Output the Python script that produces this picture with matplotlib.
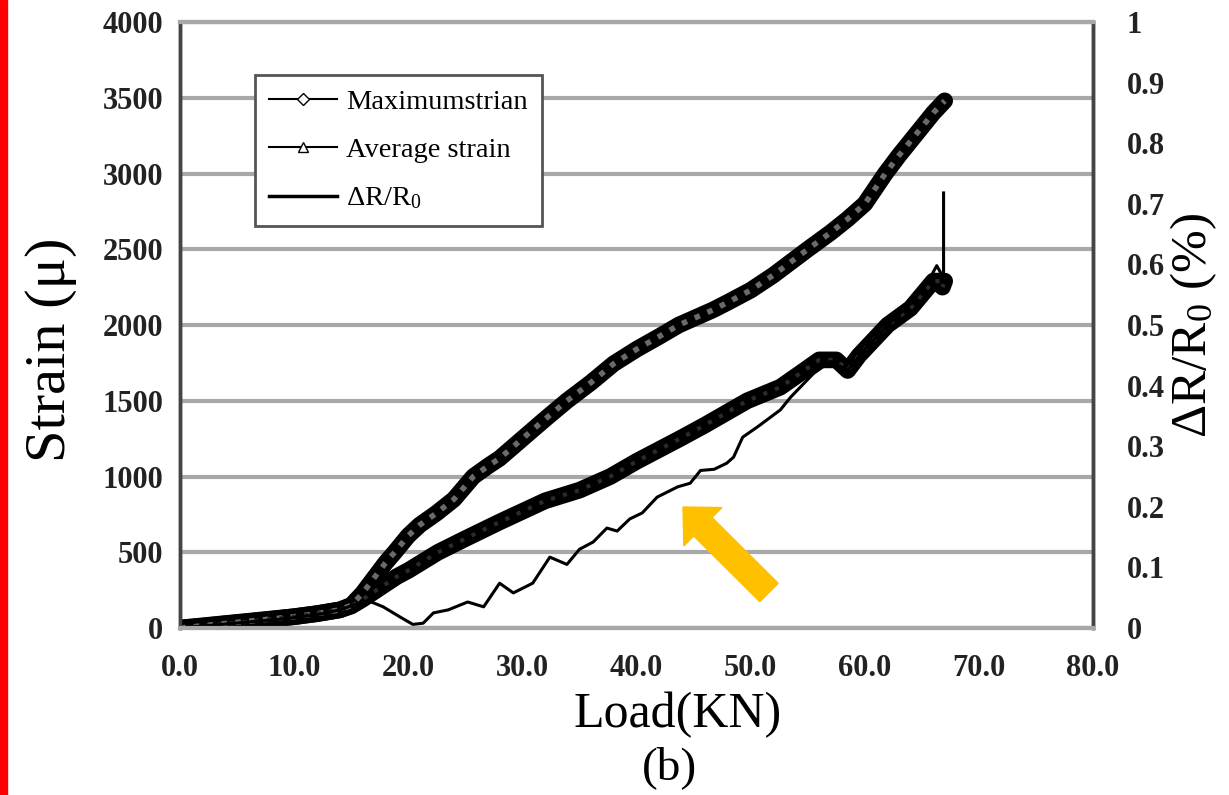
import matplotlib
matplotlib.use("Agg")
import matplotlib.pyplot as plt
from matplotlib.lines import Line2D
from matplotlib.patches import FancyArrow, Rectangle

# values
load_max = [0, 2, 4, 6, 8, 10, 12, 14, 15, 16, 17, 18, 18.8, 20, 21, 22.5, 24,
            25.7, 27, 28, 30, 32, 33.9, 36, 38, 40, 42, 43.7, 46.7, 48, 50, 52,
            55, 57, 58.5, 60, 61.8, 63, 64.5, 66, 67]
strain_max = [0, 15, 30, 45, 60, 75, 95, 120, 150, 230, 330, 430, 500, 610, 680,
              760, 850, 1000, 1070, 1120, 1250, 1380, 1500, 1620, 1745, 1840,
              1925, 2000, 2100, 2150, 2230, 2330, 2500, 2610, 2700, 2800, 3000,
              3120, 3260, 3400, 3480]

load_avg = [0, 2, 4, 6, 8, 10, 12, 14, 15, 16, 17, 18, 19, 20, 22.6, 25, 28, 30,
            32, 35, 37.7, 40, 43.8, 46, 49.7, 52.6, 54.5, 56, 57.5, 58.5, 59.5,
            61, 62, 64, 65, 66, 67, 66.8]
strain_avg = [0, 12, 28, 42, 58, 75, 95, 120, 145, 190, 240, 290, 340, 380, 500,
              590, 700, 770, 840, 910, 1000, 1100, 1250, 1340, 1500, 1590, 1690,
              1770, 1770, 1700, 1800, 1920, 2000, 2110, 2200, 2290, 2290, 2250]

load_dr = [0, 3, 6, 9, 12, 14, 15.5, 16.5, 17.8, 19.3, 20.4, 21.3, 22.2, 23.5,
           25.2, 26.6, 28.0, 29.2, 30.9, 32.4, 33.9, 35.0, 36.2, 37.4, 38.3,
           39.4, 40.5, 41.8, 43.6, 44.7, 45.6, 46.8, 47.9, 48.5, 49.3, 50.6,
           52.6, 53.5, 55.5, 57, 58.5, 60, 62, 64, 65.5, 66.3, 66.9, 66.9]
dr_r0 = [0.0, 0.005, 0.01, 0.015, 0.022, 0.03, 0.04, 0.045, 0.035, 0.018, 0.006,
         0.008, 0.025, 0.03, 0.043, 0.035, 0.074, 0.058, 0.074, 0.117, 0.105,
         0.13, 0.142, 0.165, 0.16, 0.18, 0.19, 0.216, 0.233, 0.239, 0.26, 0.262,
         0.272, 0.282, 0.315, 0.332, 0.36, 0.381, 0.42, 0.44, 0.425, 0.46, 0.50,
         0.535, 0.57, 0.598, 0.578, 0.718]

xticks = [0, 10, 20, 30, 40, 50, 60, 70, 80]
xtick_labels = ["0.0", "10.0", "20.0", "30.0", "40.0", "50.0", "60.0", "70.0", "80.0"]
yticks = [0, 500, 1000, 1500, 2000, 2500, 3000, 3500, 4000]
rticks = [0, 0.1, 0.2, 0.3, 0.4, 0.5, 0.6, 0.7, 0.8, 0.9, 1]
rtick_labels = ["0", "0.1", "0.2", "0.3", "0.4", "0.5", "0.6", "0.7", "0.8", "0.9", "1"]

plt.rcParams["font.family"] = ["Liberation Serif", "DejaVu Serif"]
plt.rcParams["mathtext.fontset"] = "custom"
plt.rcParams["mathtext.rm"] = "Liberation Serif"
plt.rcParams["mathtext.it"] = "Liberation Serif:italic"

fig = plt.figure(figsize=(12.29, 7.95), dpi=100)
ax = fig.add_axes([0.1465, 0.21, 0.7429, 0.7623])
ax2 = ax.twinx()

ax.set_xlim(0, 80)
ax.set_ylim(0, 4000)
ax2.set_ylim(0, 1)

ax.set_yticks(yticks)
ax.yaxis.grid(True, color="#a8a8a8", lw=3)
ax.set_axisbelow(True)

# strain curves: dense markers in the scan give thick mottled bands
band = dict(color="k", lw=12, solid_capstyle="round", solid_joinstyle="round", zorder=3)
ax.plot(load_max, strain_max, **band)
ax.plot(load_max, strain_max, color="#6a6a6a", lw=4, ls=(0, (1, 1.5)), zorder=4)
ax.plot(load_avg, strain_avg, **band)
ax.plot(load_avg, strain_avg, color="#2a2a2a", lw=3, ls=(0, (1, 2)), zorder=4)
ax2.plot(load_dr, dr_r0, color="k", lw=2.2, solid_joinstyle="round")

ax.set_xticks(xticks)
ax.set_xticklabels(xtick_labels)
ax2.set_yticks(rticks)
ax2.set_yticklabels(rtick_labels)

for a in (ax, ax2):
    a.tick_params(length=0, labelsize=22, colors="#222")
    for lab in a.get_xticklabels() + a.get_yticklabels():
        lab.set_fontweight("bold")
ax.tick_params(axis="y", pad=12)
ax.tick_params(axis="x", pad=19)
ax2.tick_params(axis="y", pad=24)

for a in (ax, ax2):
    for side in ("left", "right"):
        a.spines[side].set_color("#444")
        a.spines[side].set_linewidth(2.5)
    for side in ("top", "bottom"):
        a.spines[side].set_color("#a8a8a8")
        a.spines[side].set_linewidth(3)

ax.set_xlabel("Load(KN)", fontsize=36)
ax.xaxis.set_label_coords(0.545, -0.105)
ax.set_ylabel("Strain (μ)", fontsize=42)
ax.yaxis.set_label_coords(-0.113, 0.46)
ax2.set_ylabel("ΔR/R$_0$ (%)", fontsize=37, rotation=90)
ax2.yaxis.set_label_coords(1.082, 0.5)
fig.text(0.545, 0.035, "(b)", fontsize=34, ha="center", va="center")

handles = [
    Line2D([], [], color="k", lw=1.5, marker="D", ms=6, mfc="white", mec="k"),
    Line2D([], [], color="k", lw=1.5, marker="^", ms=7, mfc="white", mec="k"),
    Line2D([], [], color="k", lw=2.5),
]
leg = ax2.legend(handles, ["Maximumstrian", "Average strain", "ΔR/R$_0$"],
                 loc="upper left", bbox_to_anchor=(0.082, 0.9125),
                 borderaxespad=0, fontsize=20.5, frameon=True, fancybox=False,
                 handlelength=2.4, handletextpad=0.3, labelspacing=0.78,
                 borderpad=0.5)
leg.get_frame().set_edgecolor("#555")
leg.get_frame().set_linewidth(2)
leg.get_frame().set_alpha(1)

# annotation arrow and the red margin line from the source page
fig.add_artist(FancyArrow(7.69, 2.025, -0.86, 0.855, width=0.26,
                          head_width=0.54, head_length=0.28,
                          length_includes_head=True, color="#FFC000",
                          transform=fig.dpi_scale_trans, zorder=10))
fig.add_artist(Rectangle((0, 0), 0.065, 7.95, color="red",
                         transform=fig.dpi_scale_trans, zorder=10))

fig.savefig("out.png", dpi=100)
